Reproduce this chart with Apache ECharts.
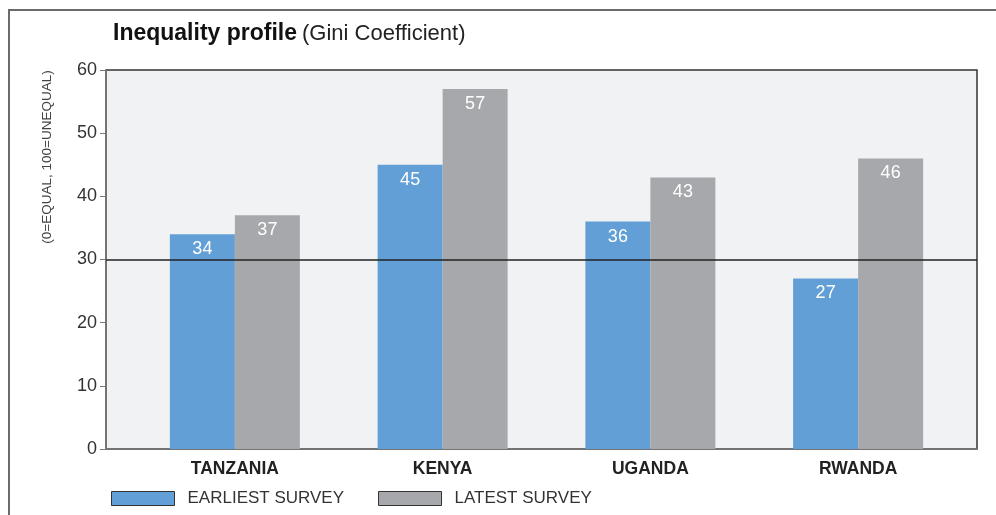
<!DOCTYPE html>
<html>
<head>
<meta charset="utf-8">
<title>Inequality profile</title>
<script src="https://cdn.jsdelivr.net/npm/echarts@6/dist/echarts.min.js"></script>
<style>
  html, body { margin: 0; padding: 0; background: #fff; }
  #chart { width: 996px; height: 515px; }
</style>
</head>
<body>
<div id="chart"></div>
<script>
// data
const countries = ['TANZANIA', 'KENYA', 'UGANDA', 'RWANDA'];
const earliest = [34, 45, 36, 27];
const latest = [37, 57, 43, 46];
const refLine = 30; // black reference line
const yTicks = { min: 0, max: 60, step: 10 };

const font = 'Liberation Sans, Arial, Helvetica, sans-serif';
const blue = '#629fd6';
const grey = '#a7a8ab';

const box = echarts.init(document.getElementById('chart'));

const barLabel = {
  show: true,
  position: 'insideTop',
  distance: 6,
  color: '#fff',
  fontSize: 18,
  fontFamily: font
};

const option = {
  animation: false,
  textStyle: { fontFamily: font },
  title: {
    left: 108,
    top: 17,
    text: '{b|Inequality profile} {n|(Gini Coefficient)}',
    textStyle: {
      rich: {
        b: { fontSize: 23, fontWeight: 'bold', color: '#111', fontFamily: font },
        n: { fontSize: 22, fontWeight: 'normal', color: '#222', fontFamily: font }
      }
    }
  },
  graphic: [
    // outer frame (top and left edges)
    { type: 'rect', shape: { x: 9, y: 10, width: 1010, height: 520 },
      style: { fill: 'none', stroke: '#6b6b6b', lineWidth: 2 }, silent: true },
    // y axis caption
    { type: 'text', x: 47, y: 157, rotation: Math.PI / 2,
      style: { text: '(0=EQUAL, 100=UNEQUAL)', fontSize: 13.5, fill: '#444',
               fontFamily: font, align: 'center', verticalAlign: 'middle' } }
  ],
  legend: {
    left: 106,
    top: 485,
    icon: 'rect',
    itemWidth: 63,
    itemHeight: 14,
    itemGap: 34,
    textStyle: { fontSize: 17, color: '#333', padding: [0, 0, 0, 8] },
    itemStyle: { borderColor: '#333', borderWidth: 1 },
    data: ['EARLIEST SURVEY', 'LATEST SURVEY']
  },
  grid: [
    // frame grid: background, border, y axis
    { left: 106, right: 19, top: 70, bottom: 66, show: true,
      backgroundColor: '#f1f2f4', borderColor: '#333', borderWidth: 1.5 },
    // bar grid
    { left: 131, right: 34, top: 70, bottom: 66 }
  ],
  xAxis: [
    { gridIndex: 0, type: 'value', min: 0, max: 1,
      axisLine: { show: true, lineStyle: { color: '#7a7a7a', width: 1.5 } },
      axisTick: { show: false }, axisLabel: { show: false }, splitLine: { show: false } },
    { gridIndex: 1, type: 'category', data: countries,
      axisLine: { show: false }, axisTick: { show: false },
      axisLabel: { margin: 11, fontSize: 17.5, fontWeight: 'bold', color: '#222' } }
  ],
  yAxis: [
    { gridIndex: 0, type: 'value', min: yTicks.min, max: yTicks.max, interval: yTicks.step,
      axisLine: { show: true, lineStyle: { color: '#7a7a7a', width: 1.5 } },
      axisTick: { show: true, length: 6, lineStyle: { color: '#7a7a7a' } },
      axisLabel: { margin: 9, fontSize: 18, color: '#333' },
      splitLine: { show: false } },
    { gridIndex: 1, type: 'value', min: yTicks.min, max: yTicks.max, show: false }
  ],
  series: [
    {
      name: 'EARLIEST SURVEY', type: 'bar', xAxisIndex: 1, yAxisIndex: 1,
      barWidth: 65, barGap: '0%',
      itemStyle: { color: blue },
      label: barLabel,
      data: earliest
    },
    {
      name: 'LATEST SURVEY', type: 'bar', xAxisIndex: 1, yAxisIndex: 1,
      barWidth: 65, barGap: '0%',
      itemStyle: { color: grey },
      label: barLabel,
      data: latest
    },
    {
      name: 'ref', type: 'line', xAxisIndex: 0, yAxisIndex: 0, z: 10,
      data: [],
      markLine: {
        silent: true, symbol: 'none',
        label: { show: false },
        lineStyle: { color: '#222', width: 1.5, type: 'solid' },
        data: [{ yAxis: refLine }]
      }
    }
  ]
};

box.setOption(option);
</script>
</body>
</html>
